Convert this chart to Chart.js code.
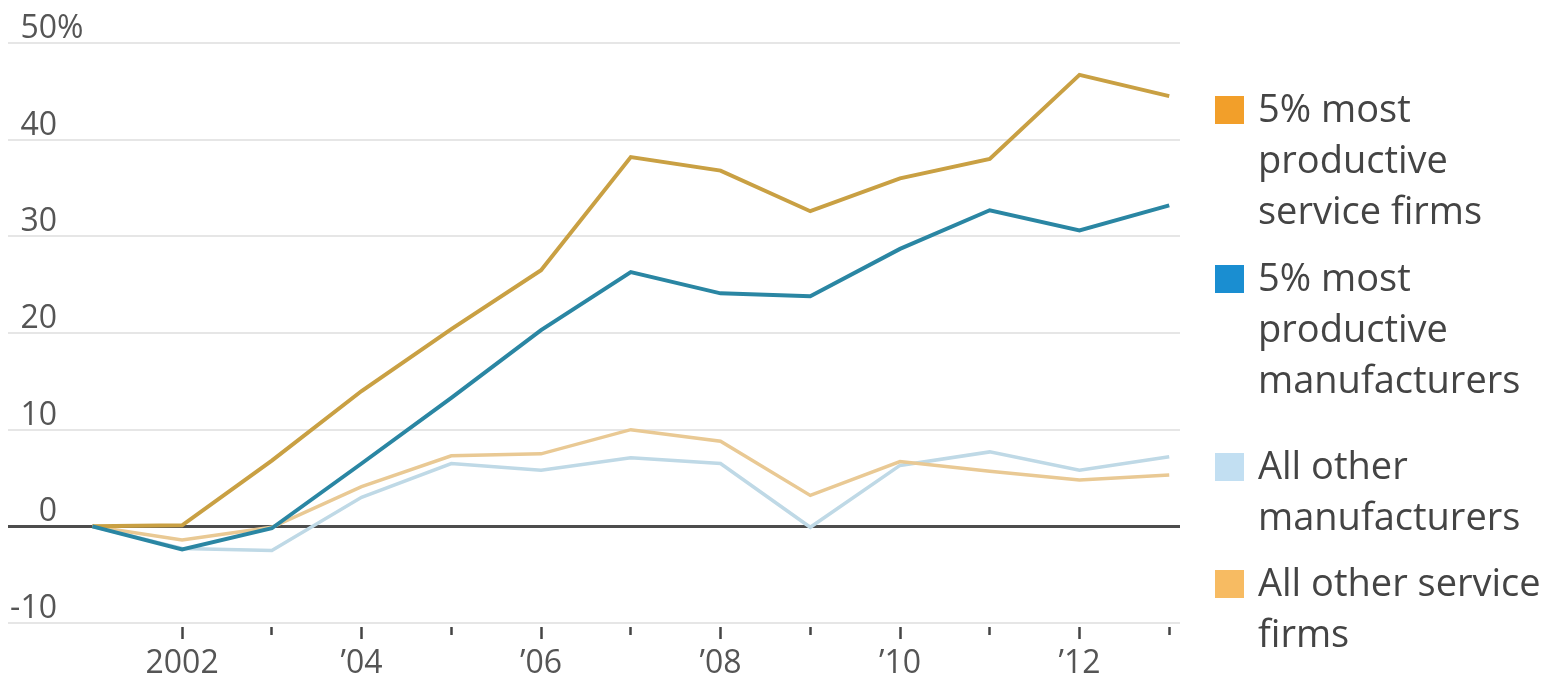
<!DOCTYPE html>
<html>
<head>
<meta charset="utf-8">
<script src="https://cdn.jsdelivr.net/npm/chart.js@4/dist/chart.umd.min.js"></script>
<style>
  html, body { margin: 0; padding: 0; background: #fff; }
  #wrap { position: relative; width: 1568px; height: 685px; }
  #chart { position: absolute; left: 0; top: 0; }
  .item { position: absolute; left: 1258px; font-family: "Open Sans", sans-serif;
          font-size: 38px; line-height: 51px; color: #444; }
  .sw { position: absolute; left: -43px; top: 14px; width: 29px; height: 28px; }
</style>
</head>
<body>
<div id="wrap">
  <canvas id="chart" width="1568" height="685"></canvas>
  <div id="legend"></div>
</div>
<script>
'use strict';

// Data (% change since 2001)
const years = [2001, 2002, 2003, 2004, 2005, 2006, 2007, 2008, 2009, 2010, 2011, 2012, 2013];
const topService = [0, 0.1, 6.8, 14, 20.4, 26.5, 38.2, 36.8, 32.6, 36, 38, 46.7, 44.5];
const topManufacturers = [0, -2.4, -0.2, 6.5, 13.3, 20.3, 26.3, 24.1, 23.8, 28.7, 32.7, 30.6, 33.2];
const otherManufacturers = [0, -2.3, -2.5, 3, 6.5, 5.8, 7.1, 6.5, -0.1, 6.3, 7.7, 5.8, 7.2];
const otherService = [0, -1.4, -0.1, 4.1, 7.3, 7.5, 10, 8.8, 3.2, 6.7, 5.7, 4.8, 5.3];
const seriesLabels = [
    ['5% most', 'productive', 'service firms'],
    ['5% most', 'productive', 'manufacturers'],
    ['All other', 'manufacturers'],
    ['All other service', 'firms']
];
const yTicks = [-10, 0, 10, 20, 30, 40, 50];
const xTicks = [2002, 2003, 2004, 2005, 2006, 2007, 2008, 2009, 2010, 2011, 2012, 2013];

// Styles
const lineColors = ['#c9a043', '#2a86a3', '#bfd9e6', '#e9c994'];
const swatchColors = ['#f29f2a', '#1a8ed1', '#c2dff2', '#f7bb62'];
const lineWidths = [4, 4, 3.5, 3.5];
const legendTops = [82, 251, 439, 556];

function pts(values) {
    return values.map((v, i) => ({ x: years[i], y: v }));
}

function xLabel(v) {
    if (v % 2 !== 0) return '';
    return v === 2002 ? '2002' : '\u2019' + String(v).slice(2);
}

// y labels sit above their gridlines, right-aligned
const yLabelPlugin = {
    id: 'yLabels',
    afterDraw(chart) {
        const ctx = chart.ctx;
        const y = chart.scales.y;
        ctx.save();
        ctx.font = '32px "Open Sans", sans-serif';
        ctx.fillStyle = '#555';
        ctx.textBaseline = 'alphabetic';
        yTicks.forEach(v => {
            const py = y.getPixelForValue(v) - 5;
            ctx.textAlign = 'right';
            ctx.fillText(String(v), 57, py);
            if (v === 50) {
                ctx.textAlign = 'left';
                ctx.fillText('%', 57, py);
            }
        });
        ctx.restore();
    }
};

function graphInit() {
    const ctx = document.getElementById('chart').getContext('2d');
    const data = [topService, topManufacturers, otherManufacturers, otherService];
    return new Chart(ctx, {
        type: 'line',
        data: {
            datasets: data.map((d, i) => ({
                label: seriesLabels[i].join(' '),
                data: pts(d),
                borderColor: lineColors[i],
                borderWidth: lineWidths[i],
                pointRadius: 0,
                fill: false,
                tension: 0,
                order: [1, 0, 3, 2][i]
            }))
        },
        options: {
            responsive: false,
            animation: false,
            layout: { padding: { left: 8, right: 388, top: 43, bottom: 0 } },
            plugins: { legend: { display: false }, tooltip: { enabled: false } },
            scales: {
                x: {
                    type: 'linear',
                    min: 2000.06,
                    max: 2013.12,
                    afterBuildTicks: s => { s.ticks = xTicks.map(v => ({ value: v })); },
                    afterFit: s => { s.height = 62; },
                    border: { display: false },
                    grid: {
                        drawOnChartArea: false,
                        drawTicks: true,
                        tickLength: 16,
                        tickWidth: 2.5,
                        tickColor: '#444',
                        tickBorderDash: c => (c.tick && c.tick.value % 2 === 0) ? [0, 4, 12, 100] : [0, 4, 8, 100]
                    },
                    ticks: {
                        autoSkip: false,
                        maxRotation: 0,
                        padding: 6,
                        color: '#555',
                        font: { family: '"Open Sans", sans-serif', size: 32 },
                        callback: v => xLabel(v)
                    }
                },
                y: {
                    min: -10,
                    max: 50,
                    afterBuildTicks: s => { s.ticks = yTicks.map(v => ({ value: v })); },
                    afterFit: s => { s.width = 0; },
                    border: { display: false },
                    ticks: { display: false },
                    grid: {
                        drawTicks: false,
                        color: c => c.tick && c.tick.value === 0 ? '#4d4d4d' : '#e6e6e6',
                        lineWidth: c => c.tick && c.tick.value === 0 ? 3 : 2
                    }
                }
            }
        },
        plugins: [yLabelPlugin]
    });
}

function legendInit() {
    const box = document.getElementById('legend');
    seriesLabels.forEach((lines, i) => {
        const item = document.createElement('div');
        item.className = 'item';
        item.style.top = legendTops[i] + 'px';
        const sw = document.createElement('span');
        sw.className = 'sw';
        sw.style.background = swatchColors[i];
        item.appendChild(sw);
        lines.forEach((t, j) => {
            if (j > 0) item.appendChild(document.createElement('br'));
            item.appendChild(document.createTextNode(t));
        });
        box.appendChild(item);
    });
}

graphInit();
legendInit();
</script>
</body>
</html>
